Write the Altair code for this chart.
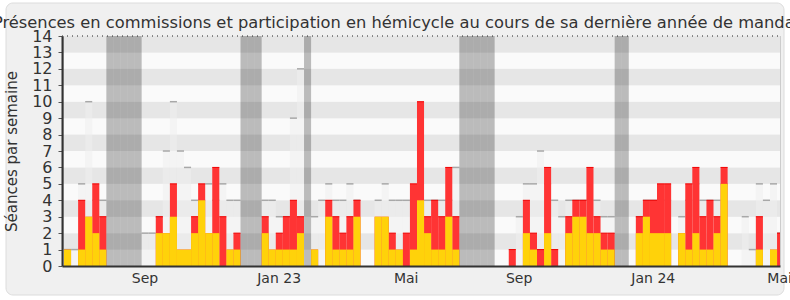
import altair as alt
import pandas as pd

# ---- data (one entry per week, index 0..101) ----
hemicycle = [1,0,1,3,2,1,0,0,0,0,0,0,0,2,2,3,1,1,2,4,2,2,0,1,1,0,0,0,2,1,
             1,1,1,2,0,1,0,3,1,1,1,3,0,0,3,3,1,1,0,1,4,2,1,1,3,1,0,0,0,0,
             0,0,0,0,0,2,1,0,2,0,0,2,3,3,2,2,1,1,0,0,0,2,3,2,2,2,0,2,1,2,
             1,1,2,5,0,0,0,0,1,0,1,0]
total = [1,0,4,3,5,3,0,0,0,0,0,0,0,3,2,5,1,1,3,5,2,6,3,1,2,0,0,0,3,1,
         2,3,4,3,0,1,0,4,3,2,3,4,0,0,3,3,2,1,2,5,10,3,4,3,6,3,0,0,0,0,
         0,0,0,1,0,4,2,1,6,1,0,3,4,4,6,3,2,2,0,0,0,3,4,4,5,5,0,2,5,6,
         3,4,3,6,0,0,0,0,3,0,1,2]
median = [1,1,5,10,4,4,0,0,0,0,0,2,2,3,7,10,7,6,4,4,5,4,5,4,4,0,0,0,4,4,
          3,3,9,12,0,3,4,5,4,4,5,4,0,0,4,5,4,4,4,4,5,4,4,4,4,6,0,0,0,0,
          0,0,0,0,3,5,5,7,5,4,3,4,4,4,4,4,3,3,0,0,0,3,4,4,4,4,0,3,4,5,
          4,4,4,5,0,0,3,1,5,4,5,2]
vacation_weeks = [-1, 6, 7, 8, 9, 10, 25, 26, 27, 34, 56, 57, 58, 59, 60, 78, 79]
tick_pos = [11.4, 30.4, 48.4, 64.4, 83.4, 101.3]
tick_lab = ["Sep", "Jan 23", "Mai", "Sep", "Jan 24", "Mai"]
y_ticks = [0, 1, 2, 3, 4, 5, 6, 7, 8, 9, 10, 11, 12, 13, 14]

TITLE = "Présences en commissions et participation en hémicycle au cours de sa dernière année de mandat"
FONT = "DejaVu Sans"
W, H = 718, 230
XDOM = [-0.283, 101.42]

n = len(total)
weeks = pd.DataFrame({
    "x0": list(range(n)),
    "x1": [i + 1 for i in range(n)],
    "hem": hemicycle,
    "tot": total,
    "med": median,
    "base": [0] * n,
})
vac = pd.DataFrame({"x0": vacation_weeks, "x1": [v + 1 for v in vacation_weeks],
                    "y0": [0] * len(vacation_weeks), "y1": [14] * len(vacation_weeks)})
stripes = pd.DataFrame({"y0": list(range(14)), "y1": [k + 1 for k in range(14)],
                        "odd": [k % 2 for k in range(14)]})

xs = alt.Scale(domain=XDOM, nice=False, zero=False)
ys = alt.Scale(domain=[0, 14], nice=False)

label_expr = " : ".join(
    f"abs(datum.value - {p}) < 0.01 ? '{l}'" for p, l in zip(tick_pos, tick_lab)
) + " : ''"

xaxis = alt.Axis(values=tick_pos, labelExpr=label_expr, ticks=False, grid=False,
                 domainColor="#333333", domainWidth=2, labelFont=FONT, labelFontSize=14,
                 labelColor="#333333", labelPadding=5, labelFlush=False, labelOverlap=False,
                 title=None, zindex=1)
yaxis = alt.Axis(values=y_ticks, grid=False, domainColor="#333333", domainWidth=2,
                 tickColor="#555555", tickSize=4, labelFont=FONT, labelFontSize=16,
                 labelColor="#333333", labelPadding=6, labelOverlap=False, labelFlush=False,
                 labelBound=False, title="Séances par semaine",
                 titleFont=FONT, titleFontSize=15, titleFontWeight="normal",
                 titleColor="#333333", titleX=-43, titleY=H / 2, zindex=1)


def X(field):
    return alt.X(field, type="quantitative", scale=xs, axis=xaxis)


def Y(field):
    return alt.Y(field, type="quantitative", scale=ys, axis=yaxis)


frame = alt.Chart(pd.DataFrame({"a": [0]})).mark_rect(
    fill="#f0f0f0", stroke="#dcdcdc", strokeWidth=1, cornerRadius=7
).encode(x=alt.value(-56), x2=alt.value(722), y=alt.value(-33), y2=alt.value(259))

stripe_layer = alt.Chart(stripes).mark_rect().encode(
    x=alt.value(0), x2=alt.value(W),
    y=Y("y0"), y2="y1:Q",
    color=alt.Color("odd:N", scale=alt.Scale(domain=[0, 1], range=["#fafafa", "#e6e6e6"]), legend=None),
)

med_bar = alt.Chart(weeks).mark_rect(color="#eeeeee", opacity=0.55, clip=True).encode(
    x=X("x0"), x2="x1:Q", y=Y("med"), y2="base:Q",
)
med_top = alt.Chart(weeks).transform_filter("datum.med > 0").mark_rule(
    color="#a8a8a8", strokeWidth=1.5, clip=True
).encode(x=X("x0"), x2="x1:Q", y=Y("med"))

red_bar = alt.Chart(weeks).mark_rect(color="#ff3434", clip=True).encode(
    x=X("x0"), x2="x1:Q", y=Y("tot"), y2="base:Q",
)
red_top = alt.Chart(weeks).transform_filter("datum.tot > datum.hem").mark_rule(
    color="#f00000", strokeWidth=1, clip=True
).encode(x=X("x0"), x2="x1:Q", y=Y("tot"))
yel_bar = alt.Chart(weeks).mark_rect(color="#ffd20a", clip=True).encode(
    x=X("x0"), x2="x1:Q", y=Y("hem"), y2="base:Q",
)

vac_layer = alt.Chart(vac).mark_rect(color="#000000", opacity=0.25, clip=True).encode(
    x=X("x0"), x2="x1:Q", y=Y("y0"), y2="y1:Q",
)

top_line = alt.Chart(pd.DataFrame({"v": [14]})).mark_rule(
    color="#222222", strokeWidth=1, strokeDash=[1, 4]
).encode(x=alt.value(0), x2=alt.value(W), y=Y("v"))
right_edge = alt.Chart(pd.DataFrame({"v": [0]})).mark_rule(
    color="#cccccc", strokeWidth=1
).encode(x=alt.value(W + 0.5), y=alt.value(0), y2=alt.value(H))

chart = alt.layer(
    frame, stripe_layer, med_bar, med_top, red_bar, red_top, yel_bar, vac_layer, top_line, right_edge
).properties(
    width=W, height=H,
    title=alt.TitleParams(TITLE, font=FONT, fontSize=16.3, fontWeight="normal", color="#333333",
                          anchor="middle", offset=4, dy=33, dx=-24),
    autosize=alt.AutoSizeParams(type="none"),
    padding={"left": 62, "top": 36, "right": 10, "bottom": 34},
    background="#ffffff",
).configure_view(stroke=None)

chart.save("out.html", embed_options={"renderer": "svg", "actions": False})
